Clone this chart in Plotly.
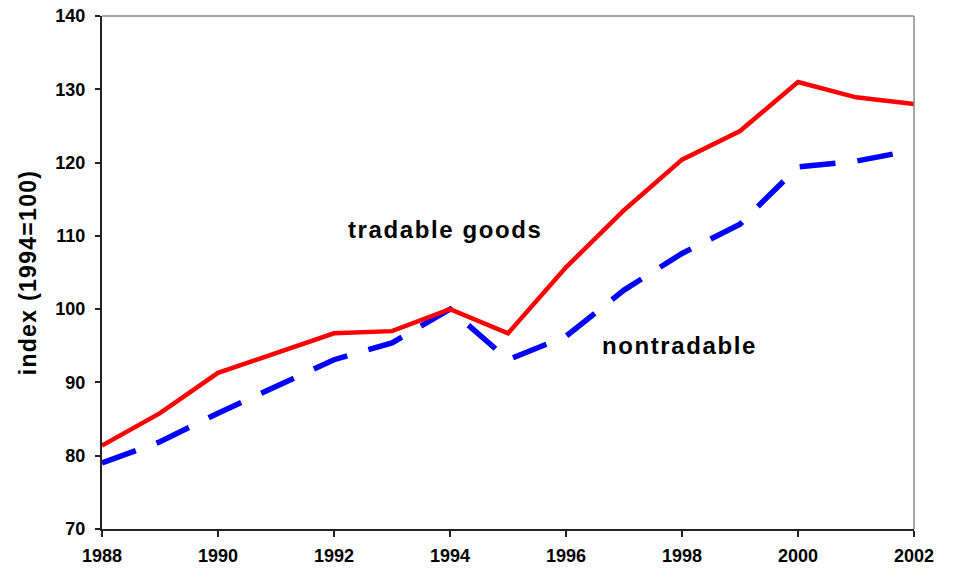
import plotly.graph_objects as go

years = list(range(1988, 2003))
tradable = [81.4, 85.8, 91.3, 94.0, 96.7, 97.0, 100.0, 96.7, 105.7, 113.5, 120.4, 124.3, 131.0, 128.9, 128.0]
nontradable = [79.0, 81.9, 85.8, 89.4, 93.1, 95.4, 100.0, 93.1, 96.3, 102.6, 107.6, 111.6, 119.4, 120.2, 121.7]

fig = go.Figure()
fig.add_trace(go.Scatter(x=years, y=nontradable, mode="lines",
                         line=dict(color="#0000FF", width=5.5, dash="36px,22px"),
                         name="nontradable", cliponaxis=False))
fig.add_trace(go.Scatter(x=years, y=tradable, mode="lines",
                         line=dict(color="#FF0000", width=4.5),
                         name="tradable goods", cliponaxis=False))

font_family = "Liberation Sans, Arial, sans-serif"

fig.update_layout(
    width=961, height=572,
    margin=dict(l=102, r=47, t=16, b=43),
    paper_bgcolor="white", plot_bgcolor="white",
    showlegend=False,
    font=dict(family=font_family, color="black"),
    xaxis=dict(range=[1988, 2002], dtick=2, tick0=1988, showgrid=False, zeroline=False,
               showline=True, linecolor="#222222", linewidth=2, automargin=False,
               ticks="outside", ticklen=6, tickwidth=1.5, tickcolor="#222222",
               tickfont=dict(size=18, family=font_family, weight="bold"),
               ticklabelstandoff=3),
    yaxis=dict(range=[70, 140], dtick=10, showgrid=False, zeroline=False,
               showline=True, linecolor="#222222", linewidth=2, automargin=False,
               ticks="outside", ticklen=5, tickwidth=1.5, tickcolor="#222222",
               tickfont=dict(size=18, family=font_family, weight="bold"),
               ticklabelstandoff=6,
               title=dict(text='<span style="letter-spacing:1.3px">index (1994=100)</span>', standoff=12,
                          font=dict(size=23, family=font_family, weight="bold"))),
    shapes=[
        dict(type="line", xref="paper", yref="paper", x0=0, x1=1, y0=1, y1=1,
             line=dict(color="#888888", width=1.5)),
        dict(type="line", xref="paper", yref="paper", x0=1, x1=1, y0=0, y1=1,
             line=dict(color="#888888", width=1.5)),
    ],
    annotations=[
        dict(x=1993.91, y=110.9, xref="x", yref="y",
             text='<span style="letter-spacing:1.6px">tradable goods</span>', showarrow=False,
             font=dict(size=24, family=font_family, weight="bold")),
        dict(x=1997.95, y=95.0, xref="x", yref="y",
             text='<span style="letter-spacing:1.6px">nontradable</span>', showarrow=False,
             font=dict(size=24, family=font_family, weight="bold")),
    ],
)

fig.write_html("out.html", config={"displayModeBar": False},
               post_script="document.body.style.margin='0';document.body.style.overflow='hidden';")
